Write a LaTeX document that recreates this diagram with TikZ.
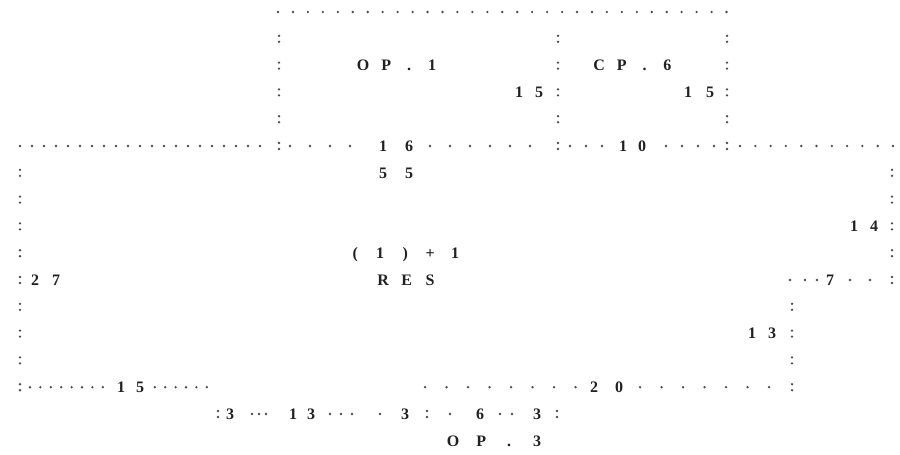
\documentclass[tikz,border=0pt]{standalone}
\usepackage{fontspec}
\newfontfamily\twfont{Liberation Serif}
\newlength\cellw
\newcommand\spc[2][21pt]{\setlength\cellw{#1}\spcA#2\relax}
\def\spcA#1{\ifx#1\relax\else\makebox[\cellw][c]{#1}\expandafter\spcA\fi}
\definecolor{dotc}{gray}{0.30}
\definecolor{txtc}{gray}{0.13}
\tikzset{
  wallcolon/.pic={\fill[dotc] (0,-3) circle (1.3pt) (0,3) circle (1.3pt);},
  dotline/.style={draw=dotc, line width=2.6pt, line cap=round, dash pattern=on 0pt off #1},
  lbl/.style={font=\twfont\bfseries\fontsize{16}{16}\selectfont, text=txtc, inner sep=0pt,
              anchor=west, text height=10.5pt, text depth=0pt},
  mlbl/.style={lbl, fill=white, inner xsep=2pt, xshift=-2pt}
}
\def\R{26.8}
\begin{document}
\begin{tikzpicture}[x=1pt,y=-1pt]
\fill[white] (0,0) rectangle (900,455);
\useasboundingbox (0,0) rectangle (900,455);

% ---- walls: coordinates
\coordinate (t1) at (278,12);   \coordinate (t2) at (727,12);
% top row
\draw[dotline=14.95pt] (t1) -- (t2);
% long row (segments between wall colons)
\coordinate (l1) at (20,{12+\R*5});  \coordinate (l2) at (268,{12+\R*5});
\coordinate (l3) at (290,{12+\R*5}); \coordinate (l4) at (548,{12+\R*5});
\coordinate (l5) at (570,{12+\R*5}); \coordinate (l6) at (715,{12+\R*5});
\coordinate (l7) at (740,{12+\R*5}); \coordinate (l8) at (893,{12+\R*5});
\draw[dotline=12pt] (l1) -- (l2);
\draw[dotline=20pt] (l3) -- (l4);
\draw[dotline=16pt] (l5) -- (l6);
\draw[dotline=15.3pt] (l7) -- (l8);
% bottom rows
\coordinate (b1) at (30,{12+\R*14});  \coordinate (b2) at (217,{12+\R*14});
\coordinate (b3) at (425,{12+\R*14}); \coordinate (b4) at (770,{12+\R*14});
\draw[dotline=10.4pt] (b1) -- (b2);
\draw[dotline=21.5pt] (b3) -- (b4);

% vertical walls made of colons
\foreach \r in {1,...,5} {
  \pic at (279,{12+\R*\r}) {wallcolon};
  \pic at (558,{12+\R*\r}) {wallcolon};
  \pic at (727,{12+\R*\r}) {wallcolon};
}
\foreach \r in {6,...,14} { \pic at (20,{12+\R*\r}) {wallcolon}; }
\foreach \r in {6,...,10} { \pic at (892,{12+\R*\r}) {wallcolon}; }
\foreach \r in {11,...,14} { \pic at (792,{12+\R*\r}) {wallcolon}; }
\foreach \x in {218,427,557} { \pic at (\x,{12+\R*15}) {wallcolon}; }

% loose dots
\foreach \x in {790,805,817,850,870} { \fill[dotc] (\x,{12+\R*10}) circle (1.3pt); }
\foreach \x in {252,259,266,330,341,352,380,450,500,512} { \fill[dotc] (\x,{12+\R*15}) circle (1.3pt); }

% ---- labels
\node[lbl] (op1) at (351.5,{12+\R*2}) {\spc[23pt]{OP.1}};
\node[lbl] (cp6) at (587.6,{12+\R*2}) {\spc[22.7pt]{CP.6}};
\node[lbl] (d15a) at (509,{12+\R*3}) {\spc[20pt]{15}};
\node[lbl] (d15b) at (677,{12+\R*3}) {\spc[22pt]{15}};
\node[mlbl] (d16) at (370,{12+\R*5}) {\spc[26pt]{16}};
\node[mlbl] (d10) at (613.5,{12+\R*5}) {\spc[19pt]{10}};
\node[lbl] (d55) at (370,{12+\R*6}) {\spc[26pt]{55}};
\node[lbl] (d14) at (844,{12+\R*8}) {\spc[20pt]{14}};
\node[lbl] (rnum) at (342.5,{12+\R*9}) {\spc[25pt]{(1)+1}};
\node[lbl] (d27) at (24.5,{12+\R*10}) {\spc[21pt]{27}};
\node[lbl] (res) at (371.2,{12+\R*10}) {\spc[23.5pt]{RES}};
\node[lbl] (d7) at (824,{12+\R*10}) {\spc[12pt]{7}};
\node[lbl] (d13) at (742,{12+\R*12}) {\spc[20pt]{13}};
\node[mlbl] (d15c) at (111.5,{12+\R*14}) {\spc[19pt]{15}};
\node[mlbl] (d20) at (581.5,{12+\R*14}) {\spc[25pt]{20}};
\node[lbl] (d3a) at (224,{12+\R*15}) {\spc[12pt]{3}};
\node[lbl] (d13b) at (284,{12+\R*15}) {\spc[18pt]{13}};
\node[lbl] (d3b) at (399,{12+\R*15}) {\spc[12pt]{3}};
\node[lbl] (d6) at (474,{12+\R*15}) {\spc[12pt]{6}};
\node[lbl] (d3c) at (531,{12+\R*15}) {\spc[12pt]{3}};
\node[lbl] (op3) at (439,{12+\R*16}) {\spc[28pt]{OP.3}};
\end{tikzpicture}
\end{document}
